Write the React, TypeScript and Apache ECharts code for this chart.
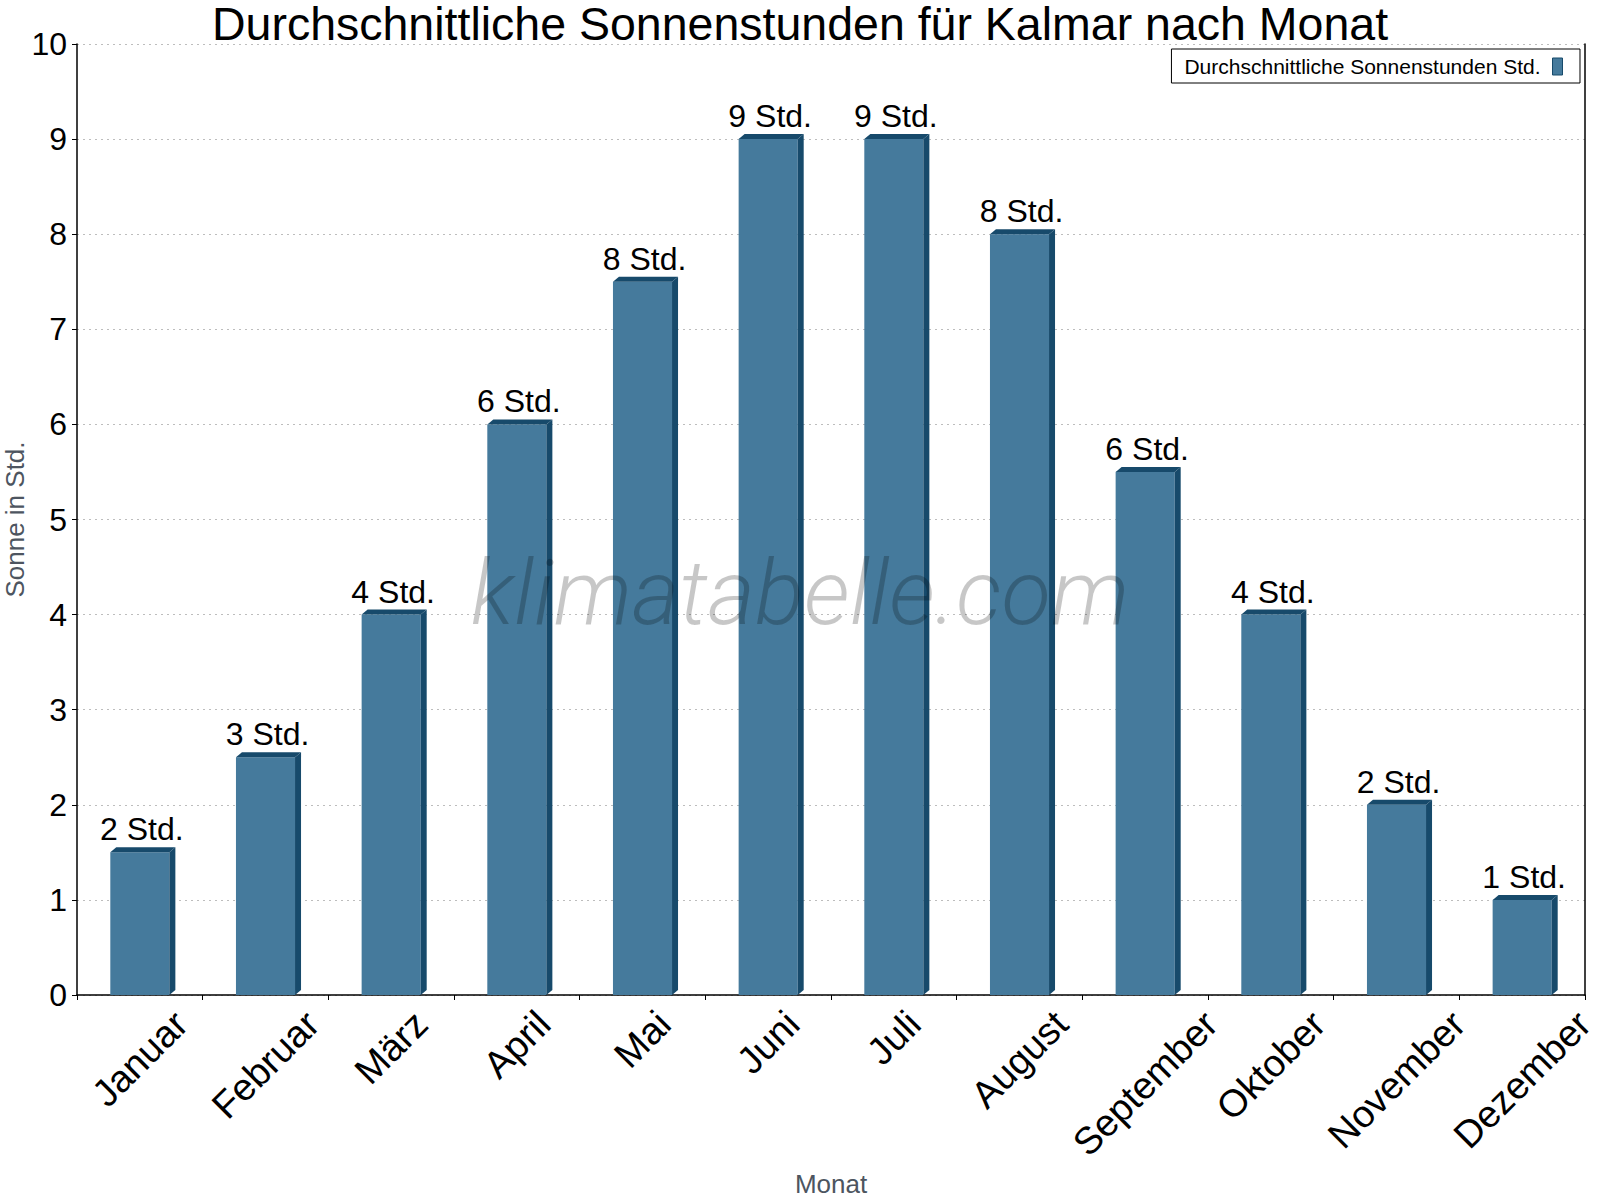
import React, { useEffect, useRef } from "react";
import * as echarts from "echarts";

// Monthly mean sunshine hours for Kalmar
const months = [
  "Januar", "Februar", "März", "April", "Mai", "Juni",
  "Juli", "August", "September", "Oktober", "November", "Dezember",
];
const sunHours = [1.5, 2.5, 4, 6, 7.5, 9, 9, 8, 5.5, 4, 2, 1];
const yMin = 0;
const yMax = 10;
const yStep = 1;

const titleText = "Durchschnittliche Sonnenstunden für Kalmar nach Monat";
const seriesName = "Durchschnittliche Sonnenstunden Std.";
const unit = "Std.";

const FONT = '"Liberation Sans", Arial, Helvetica, sans-serif';
const FRONT = "#457A9C";
const DARK = "#174A6B";

const LABEL_SIZE = 32;
const CAT_SIZE = 38;

function textWidth(text: string, size: number): number {
  const ctx = document.createElement("canvas").getContext("2d");
  if (!ctx) return text.length * size * 0.55;
  ctx.font = `${size}px ${FONT}`;
  return ctx.measureText(text).width;
}

export default function App() {
  const ref = useRef<HTMLDivElement>(null);

  useEffect(() => {
    if (!ref.current) return;
    const chart = echarts.init(ref.current, null, { renderer: "svg" });
    const catWidths = months.map((m) => textWidth(m, CAT_SIZE));

    // 3D-looking bar: front face, darker right side and top, value label and
    // the rotated month name centred under its category.
    const renderItem = (params: any, api: any) => {
      const i = api.value(0);
      const v = api.value(1);
      const top = api.coord([i, v]);
      const base = api.coord([i, 0]);
      const band = api.size([1, 0])[0];
      const w = band * 0.47;
      const dx = 6;
      const dy = 5;
      const cx = top[0];
      const L = cx - w / 2;
      const R = cx + w / 2;
      const t = top[1];
      const b = base[1];
      const catW = catWidths[i];
      const catCy = b + 13 + (catW + CAT_SIZE * 0.72) / (2 * Math.SQRT2);
      return {
        type: "group",
        children: [
          {
            type: "rect",
            shape: { x: L, y: t, width: w, height: b - t },
            style: { fill: FRONT },
          },
          {
            type: "polygon",
            shape: { points: [[R, t], [R + dx, t - dy], [R + dx, b - dy], [R, b]] },
            style: { fill: DARK },
          },
          {
            type: "polygon",
            shape: { points: [[L, t], [L + dx, t - dy], [R + dx, t - dy], [R, t]] },
            style: { fill: DARK },
          },
          {
            type: "text",
            x: cx + 2,
            y: t - dy - 2,
            style: {
              text: `${Math.round(v)} ${unit}`,
              fontSize: LABEL_SIZE,
              fontFamily: FONT,
              fill: "#000",
              align: "center",
              verticalAlign: "bottom",
            },
          },
          {
            type: "text",
            x: cx,
            y: catCy,
            rotation: Math.PI / 4,
            style: {
              text: months[i],
              fontSize: CAT_SIZE,
              fontFamily: FONT,
              fill: "#000",
              align: "center",
              verticalAlign: "middle",
            },
          },
        ],
      };
    };

    chart.setOption({
      animation: false,
      backgroundColor: "#fff",
      textStyle: { fontFamily: FONT },
      title: {
        text: titleText,
        left: "center",
        top: 0,
        padding: 0,
        textStyle: { fontSize: 46.5, fontWeight: "normal", color: "#000", fontFamily: FONT },
      },
      legend: {
        right: 20,
        top: 49,
        align: "right",
        orient: "horizontal",
        padding: [7, 17, 6, 13],
        borderColor: "#000",
        borderWidth: 1,
        itemWidth: 10,
        itemHeight: 17,
        textStyle: { fontSize: 21, color: "#000", fontFamily: FONT, padding: [0, 7, 0, 0] },
        data: [
          {
            name: seriesName,
            icon: "rect",
            itemStyle: { color: FRONT, borderColor: DARK, borderWidth: 1 },
          },
        ],
      },
      grid: {
        left: 77,
        right: 15,
        top: 44,
        bottom: 205,
        containLabel: false,
        outerBoundsMode: "none",
      },
      xAxis: {
        type: "category",
        data: months,
        boundaryGap: true,
        name: "Monat",
        nameLocation: "middle",
        nameGap: 176,
        nameMoveOverlap: false,
        nameTextStyle: { fontSize: 26, color: "#4D5560", fontFamily: FONT },
        axisLine: { lineStyle: { color: "#000", width: 1.5 } },
        axisTick: { show: true, length: 5, lineStyle: { color: "#000" } },
        axisLabel: { show: false },
        splitLine: { show: false },
      },
      yAxis: [
        {
          type: "value",
          min: yMin,
          max: yMax,
          interval: yStep,
          name: "Sonne in Std.",
          nameLocation: "middle",
          nameGap: 49,
          nameMoveOverlap: false,
          nameTextStyle: { fontSize: 26, color: "#4D5560", fontFamily: FONT },
          axisLine: { show: true, lineStyle: { color: "#000", width: 1.5 } },
          axisTick: { show: true, length: 5, lineStyle: { color: "#000" } },
          axisLabel: { fontSize: 32, color: "#000", margin: 10, fontFamily: FONT },
          splitLine: {
            show: true,
            lineStyle: { color: "#BDBDBD", type: [2, 4], width: 1 },
          },
        },
        {
          type: "value",
          position: "right",
          min: yMin,
          max: yMax,
          interval: yStep,
          axisLine: { show: true, lineStyle: { color: "#000", width: 1.5 } },
          axisTick: { show: false },
          axisLabel: { show: false },
          splitLine: { show: false },
        },
      ],
      series: [
        {
          name: seriesName,
          type: "custom",
          renderItem,
          itemStyle: { color: FRONT },
          clip: false,
          encode: { x: 0, y: 1 },
          data: sunHours.map((v, i) => [i, v]),
        },
      ],
      graphic: [
        {
          type: "text",
          x: 800,
          y: 593,
          z: 100,
          silent: true,
          style: {
            text: "klimatabelle.com",
            fontFamily: "Roboto",
            fontStyle: "italic",
            fontWeight: 300,
            fontSize: 91,
            fill: "rgba(0,0,0,0.22)",
            align: "center",
            verticalAlign: "middle",
          },
        },
      ],
    });

    return () => chart.dispose();
  }, []);

  return (
    <div
      ref={ref}
      style={{ position: "absolute", left: 0, top: 0, width: 1600, height: 1200 }}
    />
  );
}
